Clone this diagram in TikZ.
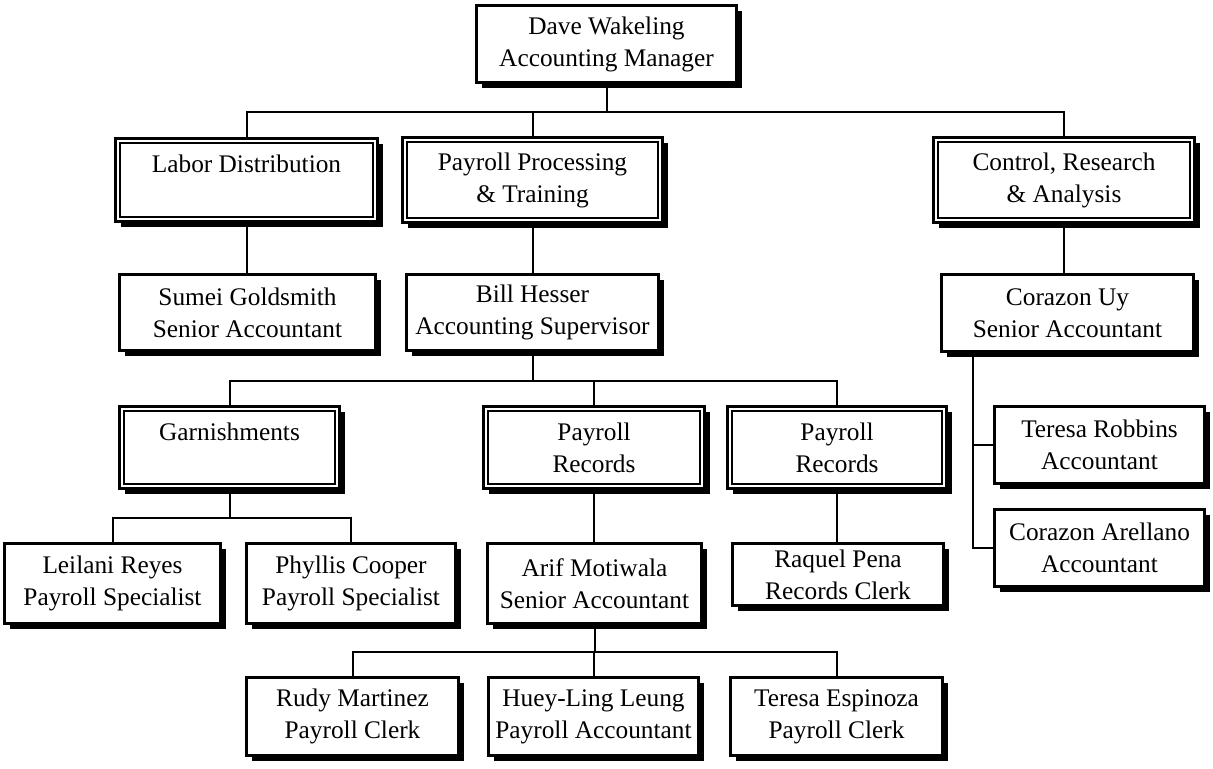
\documentclass[tikz,border=0pt]{standalone}
\usepackage{fontspec}
\setmainfont{Liberation Serif}
\usetikzlibrary{shadows}

\begin{document}
\begin{tikzpicture}[
    x=0.75pt, y=-0.75pt, line width=1.5pt,
    every node/.style={draw, align=center, fill=white, line width=2.2pt, inner sep=0pt,
        font=\fontsize{19}{24}\selectfont,
        drop shadow={shadow xshift=4pt, shadow yshift=-4pt, opacity=1, fill=black}},
    size/.style 2 args={minimum width=#1*0.75pt-2.2pt, minimum height=#2*0.75pt-2.2pt},
    inner line/.style={line width=0.9pt}
]
\useasboundingbox (0,0) rectangle (1213,768);

% manager and departments
\node (manager) [size={263}{80}] at (606.5,44) {Dave Wakeling\\Accounting Manager};
\node (labor_dist) [size={265}{86}] at (246.5,180) {Labor Distribution\\\phantom{X}};
\node (payroll_proc) [size={263}{88}] at (532.5,180) {Payroll Processing\\\& Training};
\node (control_research) [size={264}{88}] at (1064,180) {Control, Research\\\& Analysis};

\node (sumei) [size={259}{79}] at (247.5,312.5) {Sumei Goldsmith\\Senior Accountant};
\node (bill) [size={255}{79}] at (532.5,312.5) {Bill Hesser\\Accounting Supervisor};
\node (corazon_uy) [size={255}{80}] at (1067.5,313) {Corazon Uy\\Senior Accountant};

% second level departments
\node (garnishments) [size={223}{85}] at (229.5,447.5) {Garnishments\\\phantom{X}};
\node (records_one) [size={224}{85}] at (594,447.5) {Payroll\\Records};
\node (records_two) [size={222}{85}] at (837,447.5) {Payroll\\Records};

\node (robbins) [size={213}{80}] at (1099.5,445) {Teresa Robbins\\Accountant};
\node (arellano) [size={213}{80}] at (1099.5,548) {Corazon Arellano\\Accountant};

\node (leilani) [size={219}{83}] at (112.5,583.5) {Leilani Reyes\\Payroll Specialist};
\node (phyllis) [size={212}{83}] at (351,583.5) {Phyllis Cooper\\Payroll Specialist};
\node (arif) [size={217}{83}] at (594.5,583.5) {Arif Motiwala\\Senior Accountant};
\node (raquel) [size={214}{65}] at (838,574.5) {Raquel Pena\\Records Clerk};

\node (rudy) [size={215}{81}] at (352.5,716.5) {Rudy Martinez\\Payroll Clerk};
\node (huey_ling) [size={213}{81}] at (593.5,716.5) {Huey-Ling Leung\\Payroll Accountant};
\node (teresa_esp) [size={215}{81}] at (836.5,716.5) {Teresa Espinoza\\Payroll Clerk};

% inner frame of the department boxes
\foreach \dept in {labor_dist, payroll_proc, control_research, garnishments, records_one, records_two}
    \draw[inner line] ([shift={(4.5pt,-4.5pt)}]\dept.north west) rectangle ([shift={(-4.5pt,4.5pt)}]\dept.south east);

% buses
\coordinate (bus_top) at (0,112);
\coordinate (bus_bill) at (0,381);
\coordinate (bus_garn) at (0,518);
\coordinate (bus_arif) at (0,652);

\draw (manager.south) -- (manager.south |- bus_top);
\draw (labor_dist.north) -- (labor_dist.north |- bus_top) -- (control_research.north |- bus_top) -- (control_research.north);
\draw (payroll_proc.north) -- (payroll_proc.north |- bus_top);

\draw (labor_dist.south) -- (labor_dist.south |- sumei.north);
\draw (payroll_proc.south) -- (payroll_proc.south |- bill.north);
\draw (control_research.south) -- (control_research.south |- corazon_uy.north);

\draw (bill.south) -- (bill.south |- bus_bill);
\draw (garnishments.north) -- (garnishments.north |- bus_bill) -- (records_two.north |- bus_bill) -- (records_two.north);
\draw (records_one.north) -- (records_one.north |- bus_bill);

\draw (garnishments.south) -- (garnishments.south |- bus_garn);
\draw (leilani.north) -- (leilani.north |- bus_garn) -- (phyllis.north |- bus_garn) -- (phyllis.north);

\draw (records_one.south) -- (records_one.south |- arif.north);
\draw (records_two.south) -- (records_two.south |- raquel.north);

\draw (arif.south) -- (arif.south |- bus_arif);
\draw (rudy.north) -- (rudy.north |- bus_arif) -- (teresa_esp.north |- bus_arif) -- (teresa_esp.north);
\draw (huey_ling.north) -- (huey_ling.north |- bus_arif);

\draw (corazon_uy.south west) ++(33,0) coordinate (uy_leg) |- (arellano.west);
\draw (robbins.west) -- (robbins.west -| uy_leg);
\end{tikzpicture}
\end{document}
